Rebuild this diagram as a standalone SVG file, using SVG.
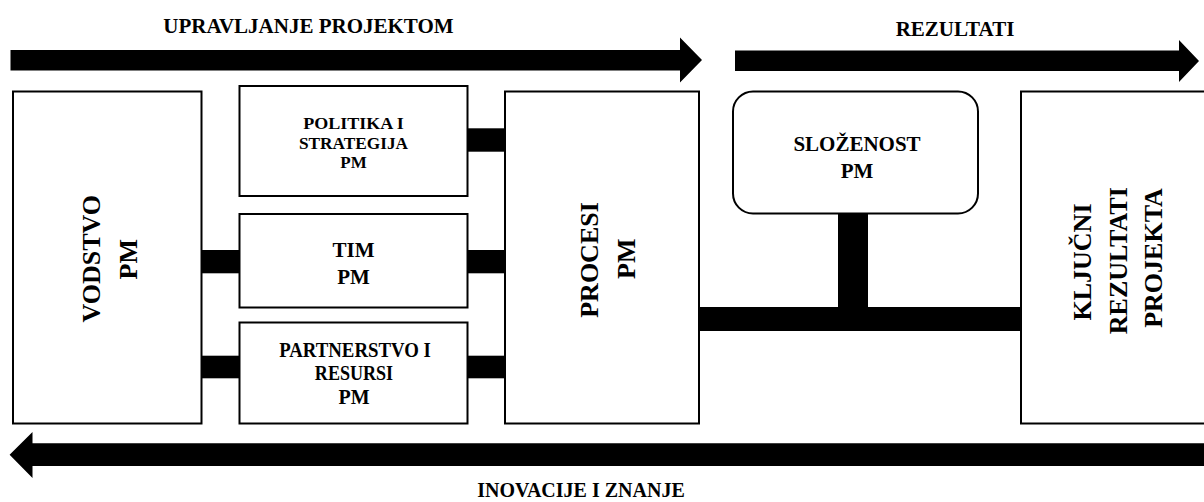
<svg xmlns="http://www.w3.org/2000/svg" width="1204" height="502" viewBox="0 0 1204 502">
<style>
.box{fill:#fff;stroke:#000;stroke-width:2}
.bar{fill:#000}
.t{font-family:"Liberation Serif","Times New Roman",serif;font-weight:bold;fill:#000;text-anchor:middle}
.f17{font-size:17px}
.f20{font-size:20px}
.f21{font-size:21px}
.f26{font-size:26px}
</style>
<rect x="0" y="0" width="1204" height="502" fill="#fff"/>
<g id="arrows">
<polygon id="arrow-upravljanje" class="bar" points="10.5,50 680,50 680,37.5 702,60 680,82.5 680,70.5 10.5,70.5"/>
<polygon id="arrow-rezultati" class="bar" points="735,50.5 1179,50.5 1179,40 1199,61 1179,82 1179,71 735,71"/>
<polygon id="arrow-inovacije" class="bar" points="1204,443.3 32.5,443.3 32.5,432 9.6,454.7 32.5,478 32.5,466 1204,466"/>
</g>
<g id="titles">
<text class="t f21" x="308.5" y="33">UPRAVLJANJE PROJEKTOM</text>
<text class="t f21" x="955" y="36">REZULTATI</text>
<text class="t f20" x="581" y="497">INOVACIJE I ZNANJE</text>
</g>
<g id="connectors">
<rect class="bar" x="467.5" y="128.3" width="37.5" height="23.4"/>
<rect class="bar" x="201.5" y="250" width="38" height="23.3"/>
<rect class="bar" x="467.5" y="250" width="37.5" height="23.3"/>
<rect class="bar" x="201.5" y="355.7" width="38" height="22.6"/>
<rect class="bar" x="467.5" y="355.7" width="37.5" height="22.6"/>
<rect class="bar" x="699" y="307" width="322" height="24"/>
<rect class="bar" x="838" y="213" width="30" height="95"/>
</g>
<g id="vodstvo">
<rect class="box" x="13" y="91.5" width="188.5" height="332"/>
<text class="t f26" transform="translate(100,258.7) rotate(-90)">VODSTVO</text>
<text class="t f26" transform="translate(136.7,259.3) rotate(-90)">PM</text>
</g>
<g id="politika">
<rect class="box" x="239.5" y="86" width="228" height="110"/>
<text class="t f17" x="353.5" y="129" textLength="100.7" lengthAdjust="spacingAndGlyphs">POLITIKA I</text>
<text class="t f17" x="353.5" y="148.5" textLength="109" lengthAdjust="spacingAndGlyphs">STRATEGIJA</text>
<text class="t f17" x="353.5" y="168">PM</text>
</g>
<g id="tim">
<rect class="box" x="239.5" y="214" width="228" height="93.5"/>
<text class="t f21" x="353.5" y="256.7">TIM</text>
<text class="t f21" x="353.5" y="284">PM</text>
</g>
<g id="partnerstvo">
<rect class="box" x="239.5" y="322.5" width="228" height="101"/>
<text class="t f20" x="355" y="356.7" textLength="151.7" lengthAdjust="spacingAndGlyphs">PARTNERSTVO I</text>
<text class="t f20" x="354" y="380" textLength="78.3" lengthAdjust="spacingAndGlyphs">RESURSI</text>
<text class="t f20" x="354" y="404">PM</text>
</g>
<g id="procesi">
<rect class="box" x="505" y="91.5" width="194" height="332"/>
<text class="t f26" transform="translate(598,260) rotate(-90)">PROCESI</text>
<text class="t f26" transform="translate(635,258.8) rotate(-90)">PM</text>
</g>
<g id="slozenost">
<rect class="box" x="733" y="91.5" width="245" height="122" rx="20" ry="20"/>
<text class="t f21" x="857" y="150.7">SLOŽENOST</text>
<text class="t f21" x="857" y="178.3">PM</text>
</g>
<g id="kljucni">
<rect class="box" x="1021" y="91.5" width="200" height="332"/>
<text class="t f26" transform="translate(1090.5,262) rotate(-90)">KLJUČNI</text>
<text class="t f26" transform="translate(1127,260.7) rotate(-90)">REZULTATI</text>
<text class="t f26" transform="translate(1162,258) rotate(-90)">PROJEKTA</text>
</g>
</svg>
